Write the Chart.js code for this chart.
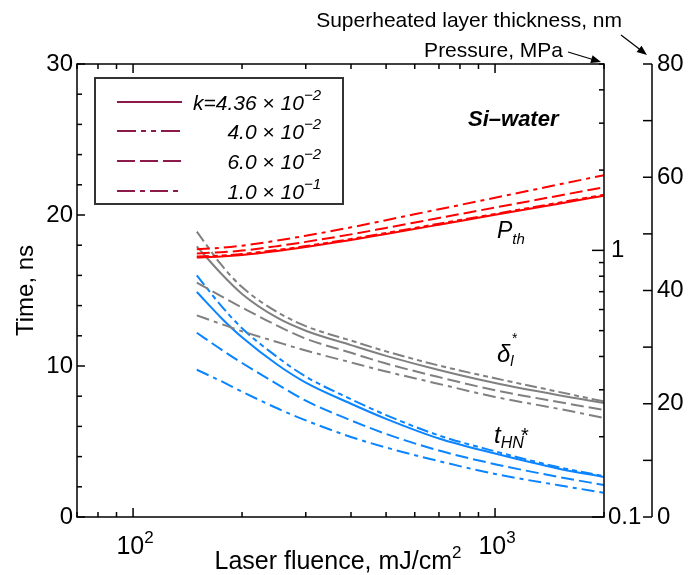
<!DOCTYPE html>
<html>
<head>
<meta charset="utf-8">
<script src="https://cdn.jsdelivr.net/npm/chart.js@4.4.0/dist/chart.umd.min.js"></script>
<style>
  html, body { margin: 0; padding: 0; background: #fff; }
  canvas { display: block; }
</style>
</head>
<body>
<canvas id="chart" width="691" height="575"></canvas>
<script>
// laser fluence, mJ/cm2
const fluence = [150, 175, 200, 250, 300, 400, 500, 700, 1000, 1500, 2000];

// threshold pressure, MPa (right inner log axis)
const pth_436 = [0.941, 0.948, 0.960, 0.994, 1.029, 1.093, 1.152, 1.248, 1.359, 1.497, 1.603];
const pth_40 = [0.949, 0.956, 0.969, 1.003, 1.038, 1.103, 1.162, 1.259, 1.370, 1.510, 1.616];
const pth_60 = [0.974, 0.984, 0.998, 1.037, 1.076, 1.148, 1.214, 1.323, 1.447, 1.604, 1.725];
const pth_100 = [1.009, 1.022, 1.041, 1.088, 1.135, 1.220, 1.298, 1.426, 1.575, 1.766, 1.914];

// superheated layer thickness, nm (right outer axis)
const delta_436 = [47.8, 43.0, 39.4, 35.2, 32.9, 30.35, 28.45, 25.95, 23.65, 21.5, 20.15];
const delta_40 = [50.4, 44.6, 40.6, 36.2, 33.7, 31.15, 29.25, 26.75, 24.5, 22.1, 20.4];
const delta_60 = [41.4, 39.0, 37.0, 33.8, 31.5, 29.0, 27.1, 24.7, 22.4, 20.3, 18.9];
const delta_100 = [35.6, 34.1, 32.8, 30.9, 29.4, 27.3, 25.7, 23.5, 21.2, 19.1, 17.5];

// homogeneous nucleation time, ns (left axis)
const thn_436 = [14.9, 13.2, 11.9, 10.1, 8.9, 7.5, 6.5, 5.2, 4.2, 3.2, 2.65];
const thn_40 = [16.0, 14.0, 12.5, 10.6, 9.3, 7.8, 6.75, 5.4, 4.35, 3.3, 2.7];
const thn_60 = [12.2, 11.1, 10.2, 8.8, 7.7, 6.4, 5.5, 4.4, 3.5, 2.65, 2.12];
const thn_100 = [9.75, 9.0, 8.3, 7.2, 6.4, 5.3, 4.6, 3.7, 2.85, 2.1, 1.6];

// legend: k values
const kMantissa = ['k=4.36', '4.0', '6.0', '1.0'];
const kExponent = ['\u22122', '\u22122', '\u22122', '\u22121'];

// ticks
const xTicks = [70, 80, 90, 100, 200, 300, 400, 500, 600, 700, 800, 900, 1000, 2000];
const xLabelTicks = [100, 1000];
const timeTicks = [0, 2, 4, 6, 8, 10, 12, 14, 16, 18, 20, 22, 24, 26, 28, 30];
const pressureTicks = [0.1, 0.2, 0.3, 0.4, 0.5, 0.6, 0.7, 0.8, 0.9, 1, 2, 3, 4, 5];
const thickTicks = [0, 10, 20, 30, 40, 50, 60, 70, 80];

const FONT = '"Liberation Sans", Arial, Helvetica, sans-serif';
const plotDash = [[], [12, 4, 5, 4, 5, 4], [13, 5], [13, 5, 4, 5]];
const legendDash = [[], [19, 5, 5, 5, 5, 5], [18, 5], [18, 5, 5, 5]];

const groups = [
  { axis: 'yP', color: '#ff0000', series: [pth_436, pth_40, pth_60, pth_100] },
  { axis: 'yT', color: '#808080', series: [delta_436, delta_40, delta_60, delta_100] },
  { axis: 'y', color: '#0a84ff', series: [thn_436, thn_40, thn_60, thn_100] }
];

const datasets = [];
groups.forEach(g => {
  g.series.forEach((s, k) => {
    datasets.push({
      data: fluence.map((f, i) => ({ x: f, y: s[i] })),
      yAxisID: g.axis,
      borderColor: g.color,
      borderWidth: 2,
      borderDash: plotDash[k],
      pointRadius: 0,
      fill: false,
      cubicInterpolationMode: 'monotone'
    });
  });
});

function line(ctx, x1, y1, x2, y2) {
  ctx.beginPath();
  ctx.moveTo(x1, y1);
  ctx.lineTo(x2, y2);
  ctx.stroke();
}

function rich(ctx, parts, x, y, align) {
  let w = 0;
  parts.forEach(p => { ctx.font = p[1]; w += ctx.measureText(p[0]).width; });
  let cx = align === 'right' ? x - w : align === 'center' ? x - w / 2 : x;
  parts.forEach(p => {
    ctx.font = p[1];
    ctx.fillText(p[0], cx, y + (p[2] || 0));
    cx += ctx.measureText(p[0]).width;
  });
}

function arrow(ctx, x1, y1, x2, y2) {
  const a = Math.atan2(y2 - y1, x2 - x1);
  line(ctx, x1, y1, x2 - 6 * Math.cos(a), y2 - 6 * Math.sin(a));
  ctx.beginPath();
  ctx.moveTo(x2, y2);
  ctx.lineTo(x2 - 10 * Math.cos(a) + 4 * Math.sin(a), y2 - 10 * Math.sin(a) - 4 * Math.cos(a));
  ctx.lineTo(x2 - 10 * Math.cos(a) - 4 * Math.sin(a), y2 - 10 * Math.sin(a) + 4 * Math.cos(a));
  ctx.closePath();
  ctx.fill();
}

const decorations = {
  id: 'decorations',
  afterDraw(chart) {
    const ctx = chart.ctx;
    const { x, y, yP, yT } = chart.scales;
    const a = chart.chartArea;
    ctx.save();
    ctx.strokeStyle = '#000';
    ctx.fillStyle = '#000';
    ctx.lineWidth = 1.5;

    // frame and outer axis
    ctx.strokeRect(a.left, a.top, a.right - a.left, a.bottom - a.top);
    line(ctx, yT.left, yT.top, yT.left, yT.bottom);

    // x ticks bottom + top
    x.ticks.forEach(t => {
      const px = x.getPixelForValue(t.value);
      const len = xLabelTicks.includes(t.value) ? 9 : 5;
      line(ctx, px, a.bottom, px, a.bottom - len);
      line(ctx, px, a.top, px, a.top + len);
    });
    // time ticks
    y.ticks.forEach(t => {
      const py = y.getPixelForValue(t.value);
      line(ctx, a.left, py, a.left + (t.value % 10 === 0 ? 8 : 5), py);
    });
    // pressure ticks (inward, left of right frame)
    yP.ticks.forEach(t => {
      const py = yP.getPixelForValue(t.value);
      const major = t.value === 0.1 || t.value === 1;
      line(ctx, a.right, py, a.right - (major ? 12 : 5), py);
    });
    // thickness ticks
    yT.ticks.forEach(t => {
      const py = yT.getPixelForValue(t.value);
      line(ctx, yT.left, py, yT.left - 9, py);
    });

    // tick labels
    ctx.textBaseline = 'middle';
    ctx.font = '24px ' + FONT;
    ctx.textAlign = 'right';
    y.ticks.forEach(t => {
      if (t.value % 10 === 0) ctx.fillText(String(t.value), a.left - 4, y.getPixelForValue(t.value));
    });
    ctx.textAlign = 'left';
    ctx.fillText('1', a.right + 7, yP.getPixelForValue(1));
    ctx.fillText('0.1', a.right + 4, yP.getPixelForValue(0.1));
    yT.ticks.forEach(t => {
      if (t.value % 20 === 0) ctx.fillText(String(t.value), yT.left + 5, yT.getPixelForValue(t.value));
    });
    ctx.textBaseline = 'alphabetic';
    xLabelTicks.forEach(v => {
      const px = x.getPixelForValue(v);
      rich(ctx, [['10', '25px ' + FONT], [String(Math.round(Math.log10(v))), '17px ' + FONT, -11]], px + 2, 554, 'center');
    });

    // axis titles
    rich(ctx, [['Laser fluence, mJ/cm', '25px ' + FONT], ['2', '17px ' + FONT, -11]], 338, 569, 'center');
    ctx.save();
    ctx.translate(33, (a.top + a.bottom) / 2);
    ctx.rotate(-Math.PI / 2);
    ctx.textAlign = 'center';
    ctx.font = '24px ' + FONT;
    ctx.fillText('Time, ns', 0, 0);
    ctx.restore();

    ctx.textAlign = 'right';
    ctx.font = '21px ' + FONT;
    ctx.fillText('Superheated layer thickness, nm', 622, 27);
    ctx.fillText('Pressure, MPa', 563, 57);
    ctx.textAlign = 'left';
    ctx.lineWidth = 1.2;
    arrow(ctx, 568, 52, 601, 62);
    arrow(ctx, 621, 35, 647, 55);

    // curve labels
    ctx.font = 'italic bold 22px ' + FONT;
    ctx.fillText('Si\u2013water', 468, 126);
    rich(ctx, [['P', 'italic 23px ' + FONT], ['th', 'italic 15px ' + FONT, 6]], 497, 238);
    rich(ctx, [['\u03b4', 'italic 24px ' + FONT], ['l', 'italic 15px ' + FONT, 4]], 497, 362);
    ctx.font = '14px ' + FONT;
    ctx.fillText('*', 512, 343);
    rich(ctx, [['t', 'italic 24px ' + FONT], ['HN', 'italic 16px ' + FONT, 5]], 494, 443);
    ctx.font = '20px ' + FONT;
    ctx.fillText('*', 521, 442);

    // legend
    ctx.lineWidth = 2;
    ctx.strokeStyle = '#333';
    ctx.strokeRect(95, 78, 248, 126);
    const rows = [102, 131, 161, 191];
    ctx.strokeStyle = '#8b1a4b';
    rows.forEach((ry, k) => {
      ctx.setLineDash(legendDash[k]);
      line(ctx, 117, ry, 182, ry);
      ctx.setLineDash([]);
      rich(ctx, [
        [kMantissa[k], 'italic 21px ' + FONT],
        [' \u00d7 ', '21px ' + FONT],
        ['10', 'italic 21px ' + FONT],
        [kExponent[k], 'italic 15px ' + FONT, -10]
      ], 321, ry + 8, 'right');
    });
    ctx.restore();
  }
};

function setTicks(values) {
  return s => { s.ticks = values.map(v => ({ value: v })); };
}

new Chart(document.getElementById('chart'), {
  type: 'line',
  data: { datasets },
  options: {
    responsive: false,
    animation: false,
    devicePixelRatio: 1,
    layout: { padding: { left: 0, top: 64, right: 0, bottom: 0 } },
    plugins: { legend: { display: false }, tooltip: { enabled: false } },
    scales: {
      x: {
        type: 'logarithmic', min: 70, max: 2000,
        ticks: { display: false }, grid: { display: false, drawTicks: false }, border: { display: false },
        afterBuildTicks: setTicks(xTicks),
        afterFit: s => { s.height = 58; }
      },
      y: {
        type: 'linear', position: 'left', min: 0, max: 30,
        ticks: { display: false }, grid: { display: false, drawTicks: false }, border: { display: false },
        afterBuildTicks: setTicks(timeTicks),
        afterFit: s => { s.width = 77; }
      },
      yP: {
        type: 'logarithmic', position: 'right', min: 0.1, max: 5, weight: 0,
        ticks: { display: false }, grid: { display: false, drawTicks: false }, border: { display: false },
        afterBuildTicks: setTicks(pressureTicks),
        afterFit: s => { s.width = 48; }
      },
      yT: {
        type: 'linear', position: 'right', min: 0, max: 80, weight: 1,
        ticks: { display: false }, grid: { display: false, drawTicks: false }, border: { display: false },
        afterBuildTicks: setTicks(thickTicks),
        afterFit: s => { s.width = 39; }
      }
    }
  },
  plugins: [decorations]
});
</script>
</body>
</html>
